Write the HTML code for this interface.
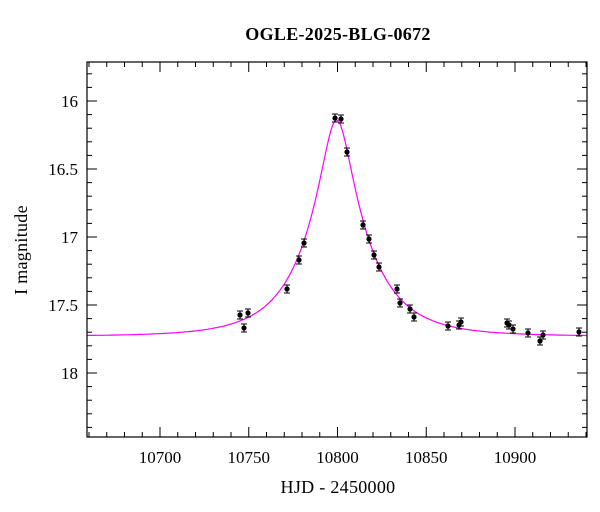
<!DOCTYPE html>
<html><head><meta charset="utf-8"><style>
body{margin:0;background:#fff;}
svg{display:block;font-family:"Liberation Serif","DejaVu Serif",serif;}
</style></head><body>
<svg id="s" width="600" height="512" xmlns="http://www.w3.org/2000/svg">
<text x="338" y="40" font-size="18" text-anchor="middle" font-weight="bold" letter-spacing="0.3">OGLE-2025-BLG-0672</text>
<text x="338" y="493" font-size="18" text-anchor="middle" letter-spacing="0.3">HJD - 2450000</text>
<text transform="translate(27,250) rotate(-90)" font-size="18" text-anchor="middle" letter-spacing="0.3">I magnitude</text>
<g id="g"></g>
<rect x="87" y="62" width="500" height="375" fill="none" stroke="#000" stroke-width="1.2"/>
</svg>
<script>
var g=document.getElementById('g'),h='';
function X(d){return 160+(d-10700)*1.775;}
function Y(m){return 101+(m-16)*136;}
var L=87,R=587,T=62,B=437;
for(var d=10660;d<=10940;d+=10){var x=X(d),len=(d%50==0)?10:5;
h+='<line x1="'+x+'" y1="'+B+'" x2="'+x+'" y2="'+(B-len)+'" stroke="#000"/>';
h+='<line x1="'+x+'" y1="'+T+'" x2="'+x+'" y2="'+(T+len)+'" stroke="#000"/>';
if(d%50==0)h+='<text x="'+x+'" y="463" font-size="17" text-anchor="middle">'+d+'</text>';}
for(var k=-2;k<=24;k++){var m=16+k*0.1;var y=Y(m);if(y<T||y>B)continue;var maj=(k%5==0),len=maj?10:5;
h+='<line x1="'+L+'" y1="'+y+'" x2="'+(L+len)+'" y2="'+y+'" stroke="#000"/>';
h+='<line x1="'+R+'" y1="'+y+'" x2="'+(R-len)+'" y2="'+y+'" stroke="#000"/>';
if(maj)h+='<text x="78" y="'+(y+6)+'" font-size="17" text-anchor="end">'+(Math.round(m*10)/10)+'</text>';}
var pts=[];var base=17.73,t0=10799.5,tE=34,u0=0.236;
for(var px=L;px<=R;px+=1){var t=10700+(px-160)/1.775;var u=Math.sqrt(u0*u0+Math.pow((t-t0)/tE,2));var A=(u*u+2)/(u*Math.sqrt(u*u+4));var mm=base-2.5*Math.log10(A);pts.push(px+','+Y(mm).toFixed(1));}
h+='<polyline points="'+pts.join(' ')+'" fill="none" stroke="#ff00ff" stroke-width="1.2"/>';
var D=[[240,315],[244,328],[248,313],[287,289],[299,260],[304,243],[335,118],[341,119],[347,152],[363,225],[369,239],[374,255],[379,267],[397,289],[400,303],[410,309],[414,317],[448,326],[459,325],[461,322],[507,323],[509,325],[513,329],[528,333],[540,341],[543,335],[579,332]];
D.forEach(function(p){var e=4;h+='<line x1="'+p[0]+'" y1="'+(p[1]-e)+'" x2="'+p[0]+'" y2="'+(p[1]+e)+'" stroke="#000"/><line x1="'+(p[0]-3)+'" y1="'+(p[1]-e)+'" x2="'+(p[0]+3)+'" y2="'+(p[1]-e)+'" stroke="#000"/><line x1="'+(p[0]-3)+'" y1="'+(p[1]+e)+'" x2="'+(p[0]+3)+'" y2="'+(p[1]+e)+'" stroke="#000"/><circle cx="'+p[0]+'" cy="'+p[1]+'" r="2.6" fill="#000"/>';});
g.innerHTML=h;
</script>
</body></html>
